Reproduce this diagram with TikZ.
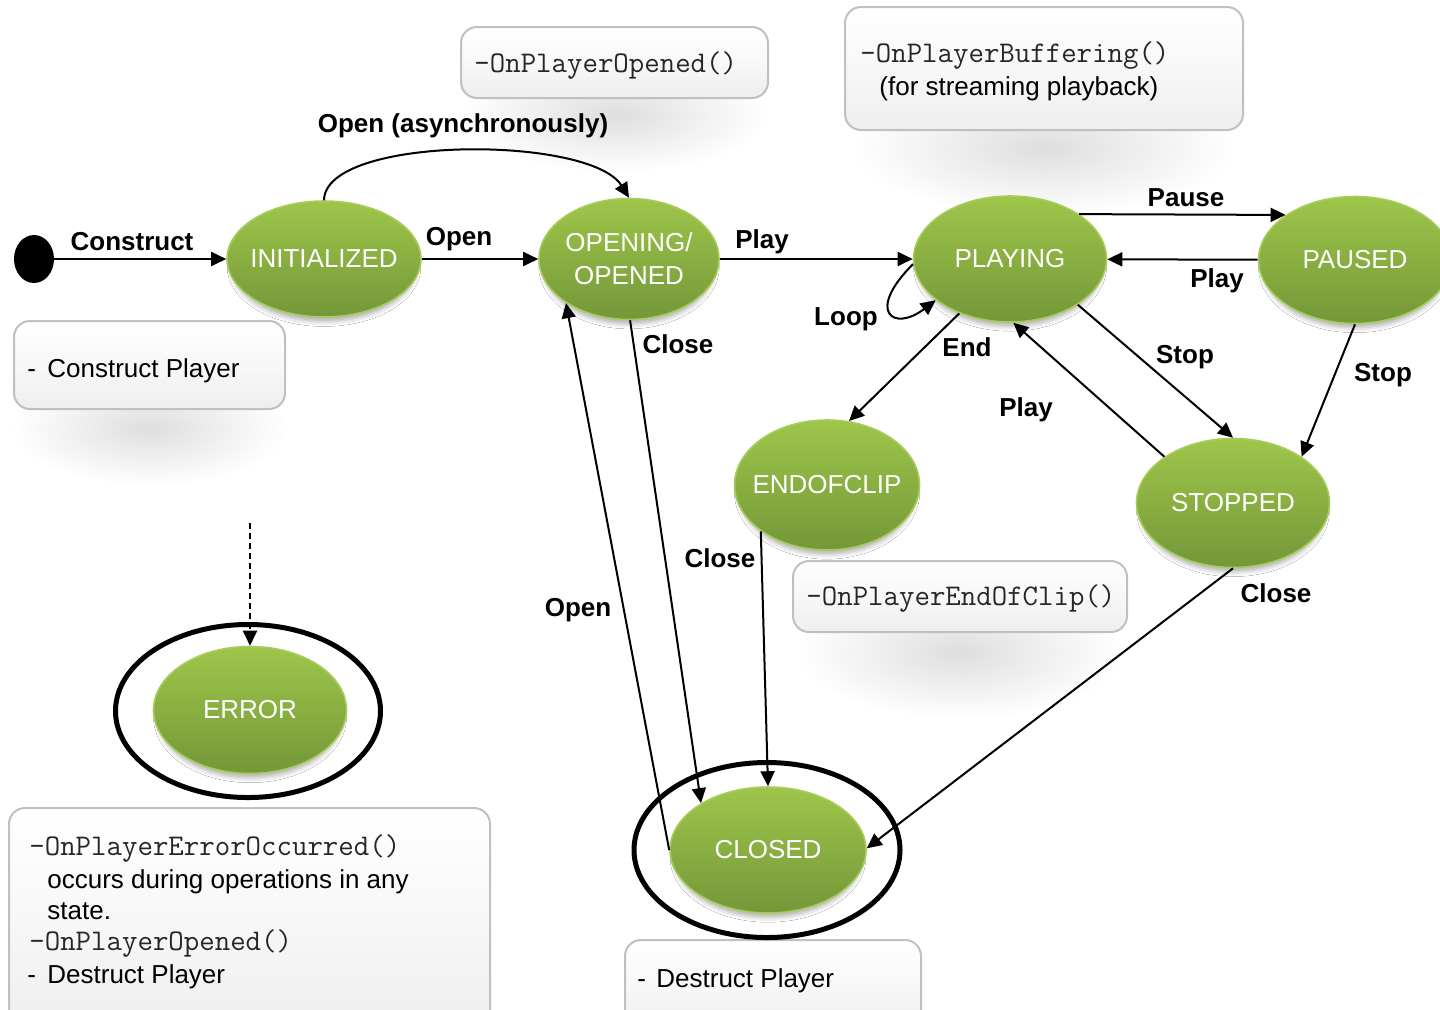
\documentclass[tikz,border=0pt]{standalone}
\usepackage{fontspec}
\setmainfont{Liberation Sans}
\usetikzlibrary{shapes.geometric,arrows.meta,shadows.blur}

\definecolor{stateTop}{RGB}{158,198,74}
\definecolor{stateBot}{RGB}{116,151,57}
\definecolor{stateRim}{RGB}{168,204,92}
\definecolor{noteRim}{RGB}{192,192,192}
\definecolor{noteBot}{RGB}{238,238,238}

% soft grey pool that sits under the note boxes (path edge lies at 25bp)
\pgfdeclareradialshading{softhalo}{\pgfpoint{0bp}{0bp}}{%
  color(0bp)=(black!13); color(9bp)=(black!8); color(24bp)=(white); color(50bp)=(white)}

\tikzset{
  state/.style={ellipse, draw=stateRim, line width=0.8pt,
    top color=stateTop, bottom color=stateBot, inner sep=0pt,
    blur shadow={shadow xshift=0pt, shadow yshift=-4pt, shadow scale=0.95,
      shadow blur radius=2.5pt, shadow opacity=30},
    label={[text=white, font=\fontsize{13}{16.5}\selectfont, align=center]center:#1}},
  finalring/.style={ellipse, draw=black, line width=2.5pt, inner sep=0pt},
  startdot/.style={ellipse, fill=black, inner sep=0pt,
    minimum width=20pt, minimum height=24pt},
  note/.style={rectangle, rounded corners=8pt, draw=noteRim, line width=1pt,
    top color=white, bottom color=noteBot, middle color=white!97!black, inner sep=0pt},
  halo/.style={ellipse, shading=softhalo, inner sep=0pt},
  notetext/.style={anchor=base west, inner sep=0pt,
    font=\fontsize{13}{16}\selectfont},
  codetext/.style={anchor=base west, inner sep=0pt,
    font=\ttfamily\fontsize{15}{16}\selectfont, text=black!85},
  lbl/.style={font=\bfseries\fontsize{13}{16}\selectfont, inner sep=0pt},
  trans/.style={line width=1pt, -{Triangle[length=7.5pt,width=7pt]}},
}

\newcommand\bullethy{\makebox[10pt][l]{-}}

\begin{document}
\begin{tikzpicture}[x=0.5pt, y=0.5pt]
  \useasboundingbox (0,0) rectangle (1440,-1009);
  \fill[white] (0,0) rectangle (1440,-1009);

  % shadows under the note boxes
  \node[halo, minimum width=145pt, minimum height=60pt] (h1) at (150,-428) {};
  \node[halo, minimum width=160pt, minimum height=60pt] (h2) at (615,-115) {};
  \node[halo, minimum width=200pt, minimum height=70pt] (h3) at (1044,-148) {};
  \node[halo, minimum width=170pt, minimum height=70pt] (h4) at (960,-652) {};

  % note boxes
  \node[note, minimum width=135.5pt, minimum height=44pt] (n1) at (149.5,-365) {};
  \node[note, minimum width=153.5pt, minimum height=35.5pt] (n2) at (614.5,-62.5) {};
  \node[note, minimum width=199pt, minimum height=61.5pt] (n3) at (1044,-68.5) {};
  \node[note, minimum width=167pt, minimum height=35.5pt] (n4) at (960,-596.5) {};
  \node[note, minimum width=240.5pt, minimum height=111pt] (n5) at (249.5,-919) {};
  \node[note, minimum width=148pt, minimum height=45pt] (n6) at (773,-985) {};

  % note texts
  \node[notetext] (t1) at (27,-377) {\bullethy Construct Player};
  \node[codetext] (t2) at (474,-72) {-OnPlayerOpened()};
  \node[codetext] (t3a) at (860,-62) {-OnPlayerBuffering()};
  \node[notetext] (t3b) at (879,-95) {(for streaming playback)};
  \node[codetext] (t4) at (806,-605) {-OnPlayerEndOfClip()};
  \node[codetext] (t5a) at (29,-855) {-OnPlayerErrorOccurred()};
  \node[notetext] (t5b) at (47,-888) {occurs during operations in any};
  \node[notetext] (t5c) at (47,-919) {state.};
  \node[codetext] (t5d) at (29,-950) {-OnPlayerOpened()};
  \node[notetext] (t5e) at (27,-983) {\bullethy Destruct Player};
  \node[notetext] (t6) at (637,-987) {\makebox[9.5pt][l]{-}Destruct Player};

  % final-state rings
  \node[finalring, minimum width=132.5pt, minimum height=86.5pt] (errorring) at (248,-711) {};
  \node[finalring, minimum width=133pt, minimum height=87.5pt] (closedring) at (767,-850) {};

  % states
  \node[startdot] (start) at (34,-259) {};
  \node[state=INITIALIZED, minimum width=97pt, minimum height=58pt] (init) at (324,-259) {};
  \node[state={OPENING/\\OPENED}, minimum width=90pt, minimum height=60.5pt] (open) at (629,-259) {};
  \node[state=PLAYING, minimum width=96.5pt, minimum height=63pt] (play) at (1010,-259) {};
  \node[state=PAUSED, minimum width=96.5pt, minimum height=63.5pt] (paused) at (1355,-260) {};
  \node[state=ENDOFCLIP, minimum width=92.5pt, minimum height=65pt] (eoc) at (827,-485) {};
  \node[state=STOPPED, minimum width=96.5pt, minimum height=64.5pt] (stopped) at (1233,-503) {};
  \node[state=ERROR, minimum width=96.5pt, minimum height=63.5pt] (error) at (250,-710) {};
  \node[state=CLOSED, minimum width=98pt, minimum height=63pt] (closed) at (768,-850) {};

  % transitions
  \draw[trans] (start) -- (init);
  \draw[trans] (init) -- (open);
  \draw[trans] (init.90) .. controls (325,-135) and (590,-135) .. (open.90);
  \draw[trans] (open) -- (play);
  \draw[trans] (play.33) -- (paused.147);
  \draw[trans] (paused) -- (play);
  \draw[trans] (play.183) .. controls +(-48,-48) and +(-42,-32) .. (play.209);
  \draw[trans] (play.227) -- (eoc.71);
  \draw[trans] (play.326) -- (stopped.90);
  \draw[trans] (stopped.146) -- (play.273);
  \draw[trans] (paused.270) -- (stopped.34);
  \draw[trans] (open.271) -- (closed.145);
  \draw[trans] (closed.180) -- (open.215);
  \draw[trans] (eoc.215) -- (closed.90);
  \draw[trans] (stopped.270) -- (closed.1);
  \coordinate (anystate) at (250,-523);
  \draw[trans, dash pattern=on 3pt off 2pt] (anystate) -- (error.north);

  % transition labels
  \node[lbl] (lConstruct) at (132,-242) {Construct};
  \node[lbl] (lOpen) at (459,-239) {Open};
  \node[lbl] (lOpenAsync) at (463,-126) {Open (asynchronously)};
  \node[lbl] (lPlay1) at (762,-242) {Play};
  \node[lbl] (lPause) at (1186,-198) {Pause};
  \node[lbl] (lPlay2) at (1217,-281) {Play};
  \node[lbl] (lLoop) at (846,-319) {Loop};
  \node[lbl] (lEnd) at (967,-347) {End};
  \node[lbl] (lStop1) at (1185,-357) {Stop};
  \node[lbl] (lPlay3) at (1026,-410) {Play};
  \node[lbl] (lStop2) at (1383,-375) {Stop};
  \node[lbl] (lClose1) at (678,-344) {Close};
  \node[lbl] (lOpen2) at (578,-610) {Open};
  \node[lbl] (lClose2) at (720,-558) {Close};
  \node[lbl] (lClose3) at (1276,-593) {Close};
\end{tikzpicture}
\end{document}
